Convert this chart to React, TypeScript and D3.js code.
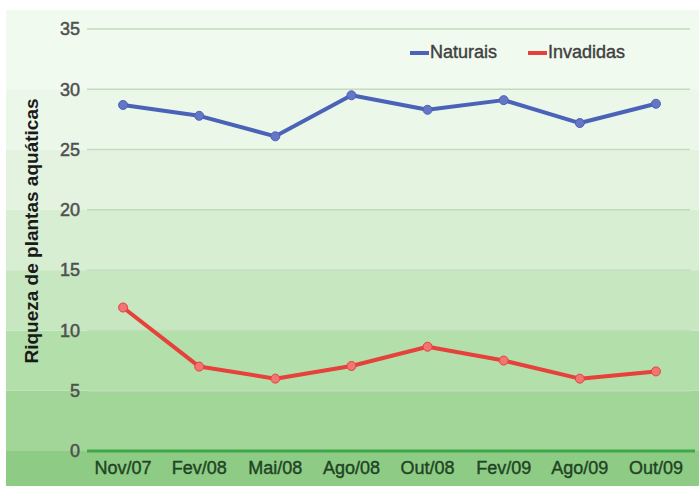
import React from "react";
import * as d3 from "d3";

const categories = ["Nov/07", "Fev/08", "Mai/08", "Ago/08", "Out/08", "Fev/09", "Ago/09", "Out/09"];
const naturais = [28.7, 27.8, 26.1, 29.5, 28.3, 29.1, 27.2, 28.8];
const invadidas = [11.9, 7.0, 6.0, 7.05, 8.65, 7.5, 6.0, 6.6];
const yTicks = [0, 5, 10, 15, 20, 25, 30, 35];
const bandColors = ["#a2d699", "#b3dfab", "#c6e7c0", "#d7eed2", "#e3f3df", "#ebf7e8", "#f1faef"];
const seriesNames = ["Naturais", "Invadidas"];
const seriesColors = ["#4a62b8", "#e6413a"];
const markerFill = ["#6676c6", "#f27474"];

const W = 699;
const H = 486;

export default function App() {
  const x = d3.scalePoint<string>().domain(categories).range([85, 694]).padding(0.5);
  const y = d3.scaleLinear().domain([0, 35]).range([451, 29]);
  const line = d3
    .line<number>()
    .x((_, i) => x(categories[i]) as number)
    .y((d) => y(d));
  const series = [naturais, invadidas];
  const font = "'Liberation Sans', Arial, sans-serif";

  return (
    <svg
      width={W}
      height={H}
      style={{ position: "absolute", left: 0, top: 0, display: "block" }}
      fontFamily={font}
    >
      <rect x={0} y={0} width={W} height={H} fill="#ffffff" />
      {bandColors.map((c, i) => {
        const top = i === bandColors.length - 1 ? 10 : y((i + 1) * 5);
        const bottom = y(i * 5);
        return <rect key={i} x={6} y={top} width={W - 6} height={bottom - top} fill={c} />;
      })}
      <rect x={6} y={y(0)} width={W - 6} height={H - y(0)} fill="#8ecc85" />
      {yTicks.slice(1).map((t) => (
        <line key={t} x1={87} x2={690} y1={y(t)} y2={y(t)} stroke="#c2dcbd" strokeWidth={1.5} />
      ))}
      <line x1={87} x2={695} y1={y(0)} y2={y(0)} stroke="#3ea84b" strokeWidth={3} />
      {yTicks.map((t) => (
        <text
          key={t}
          x={80}
          y={y(t)}
          dy="0.35em"
          textAnchor="end"
          fontSize={18}
          fill="#505050"
          stroke="#505050"
          strokeWidth={0.5}
        >
          {t}
        </text>
      ))}
      {categories.map((c) => (
        <text
          key={c}
          x={x(c) as number}
          y={468}
          dy="0.35em"
          textAnchor="middle"
          fontSize={18}
          fill="#1f4424"
          stroke="#1f4424"
          strokeWidth={0.4}
        >
          {c}
        </text>
      ))}
      <text
        transform={`translate(38,231) rotate(-90)`}
        textAnchor="middle"
        fontSize={19}
        fontWeight="bold"
        fill="#1a1a1a"
      >
        Riqueza de plantas aquáticas
      </text>
      {series.map((s, si) => (
        <g key={si}>
          <path d={line(s) || ""} fill="none" stroke={seriesColors[si]} strokeWidth={4} strokeLinejoin="round" />
          {s.map((v, i) => (
            <circle
              key={i}
              cx={x(categories[i]) as number}
              cy={y(v)}
              r={4.5}
              fill={markerFill[si]}
              stroke={seriesColors[si]}
              strokeWidth={1}
            />
          ))}
        </g>
      ))}
      {seriesNames.map((n, i) => {
        const lx = i === 0 ? 410 : 528;
        return (
          <g key={n}>
            <line x1={lx} x2={lx + 19} y1={53} y2={53} stroke={seriesColors[i]} strokeWidth={4} />
            <text x={lx + 20} y={52} dy="0.35em" fontSize={18} fill="#404040" stroke="#404040" strokeWidth={0.4}>
              {n}
            </text>
          </g>
        );
      })}
    </svg>
  );
}
